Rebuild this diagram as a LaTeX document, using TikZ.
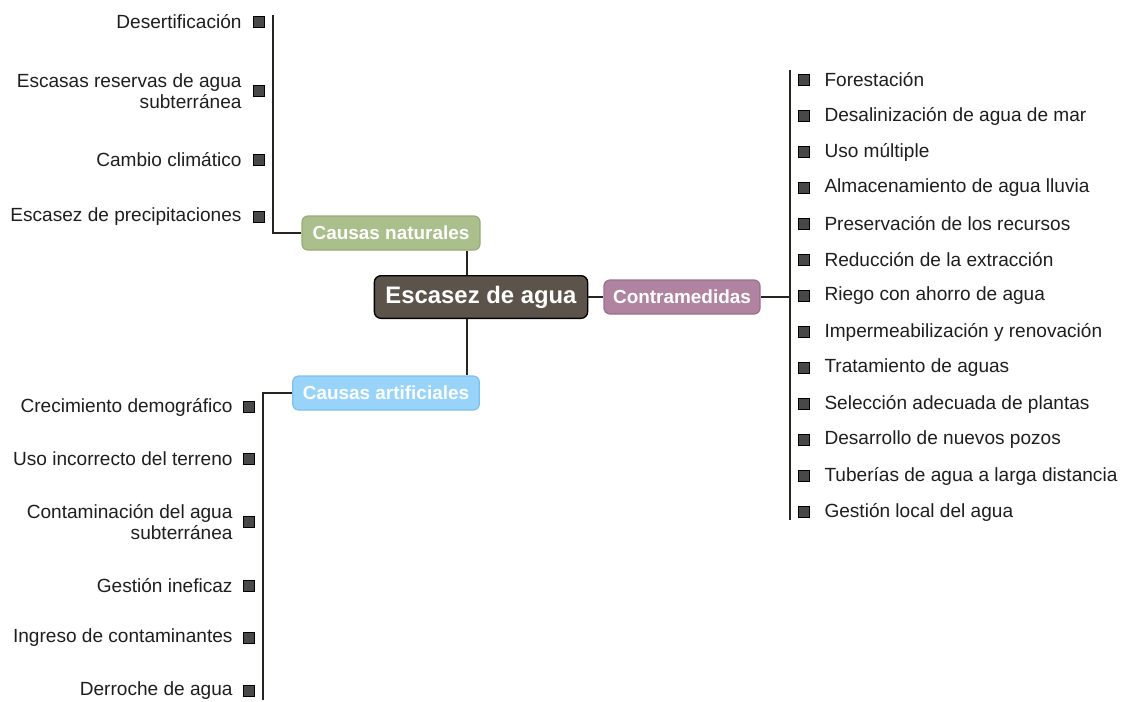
\documentclass[tikz,border=0pt]{standalone}
\usepackage{fontspec}
\setmainfont{Liberation Sans}

\definecolor{centrefill}{RGB}{92,84,74}
\definecolor{natfill}{RGB}{170,191,140}
\definecolor{natdraw}{RGB}{150,172,120}
\definecolor{contrafill}{RGB}{176,131,160}
\definecolor{contradraw}{RGB}{156,112,140}
\definecolor{artfill}{RGB}{152,212,250}
\definecolor{artdraw}{RGB}{128,192,238}
\definecolor{bulletfill}{RGB}{72,72,72}
\definecolor{linecol}{RGB}{40,36,32}

\tikzset{every picture/.style={line width=0.75pt}}
\tikzset{
  branch/.style={rounded corners=4.5pt, line width=0.9pt, text=white,
    font=\fontsize{14.2}{16}\selectfont\bfseries, minimum height=25.5pt, inner sep=0pt},
  bullet/.style={draw=black, fill=bulletfill, line width=0.6pt,
    minimum size=8pt, inner sep=0pt},
  leftitem/.style={anchor=east, align=right, inner sep=0.75pt,
    font=\fontsize{14.3}{16}\selectfont, text={rgb,255:red,30;green,30;blue,30}},
  rightitem/.style={anchor=west, align=left, inner sep=0.75pt,
    font=\fontsize{14.3}{16}\selectfont, text={rgb,255:red,30;green,30;blue,30}},
  trunk/.style={draw=linecol, line width=1.4pt}
}

\begin{document}
\begin{tikzpicture}[x=0.75pt,y=0.75pt,yscale=-1,xscale=1]
\useasboundingbox (0,0) rectangle (1124,701);

% Centre
\node [draw=black, fill=centrefill, rounded corners=5pt, line width=1pt, text=white,
  font=\fontsize{17.9}{20}\selectfont\bfseries, minimum width=160pt, minimum height=32pt,
  inner sep=0pt] (centre) at (481,297) {Escasez de agua};

% Branch nodes
\node [branch, draw=natdraw, fill=natfill, minimum width=133.5pt] (nat) at (391,233) {Causas naturales};
\node [branch, draw=contradraw, fill=contrafill, minimum width=117pt] (contra) at (682,297) {Contramedidas};
\node [branch, draw=artdraw, fill=artfill, minimum width=140pt] (art) at (386,393) {Causas artificiales};

% Trunk ends
\coordinate (nattop) at (273,15);
\coordinate (artbot) at (263,700);
\coordinate (contratop) at (790,70);
\coordinate (contrabot) at (790,520);

% Connectors
\draw [trunk] (centre.north -| 467,0) -- (nat.south -| 467,0);
\draw [trunk] (centre.south -| 467,0) -- (art.north -| 467,0);
\draw [trunk] (centre.east) -- (contra.west);
\draw [trunk] (nat.west) -| (nattop);
\draw [trunk] (art.west) -| (artbot);
\draw [trunk] (contratop) -- (contrabot);
\draw [trunk] (contra.east) -- (contra.east -| contratop);

% Causas naturales
\foreach \y/\txt [count=\i] in {22/Desertificación,
    91/{Escasas reservas de agua\\subterránea},
    160/Cambio climático,
    217/Escasez de precipitaciones}{
  \node [bullet] (natb\i) at (259,\y) {};
  \node [leftitem] (natt\i) at (243,\y) {\txt};
}

% Causas artificiales
\foreach \y/\txt [count=\i] in {407/Crecimiento demográfico,
    459/Uso incorrecto del terreno,
    522/{Contaminación del agua\\subterránea},
    586/Gestión ineficaz,
    638/Ingreso de contaminantes,
    691/Derroche de agua}{
  \node [bullet] (artb\i) at (249,\y) {};
  \node [leftitem] (artt\i) at (234,\y) {\txt};
}

% Contramedidas
\foreach \txt [count=\i] in {Forestación,
    Desalinización de agua de mar,
    Uso múltiple,
    Almacenamiento de agua lluvia,
    Preservación de los recursos,
    Reducción de la extracción,
    Riego con ahorro de agua,
    Impermeabilización y renovación,
    Tratamiento de aguas,
    Selección adecuada de plantas,
    Desarrollo de nuevos pozos,
    Tuberías de agua a larga distancia,
    Gestión local del agua}{
  \node [bullet] (conb\i) at (804,44+36*\i) {};
  \node [rightitem] (cont\i) at (823,44+36*\i) {\txt};
}
\end{tikzpicture}
\end{document}
